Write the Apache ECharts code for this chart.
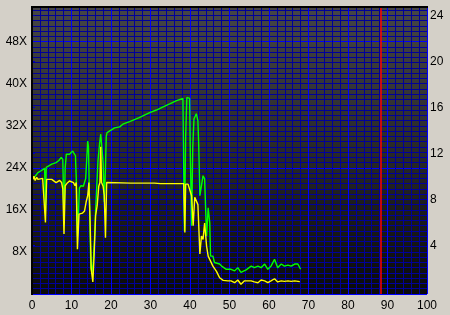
<!DOCTYPE html>
<html>
<head>
<meta charset="utf-8">
<script src="https://cdn.jsdelivr.net/npm/echarts@6/dist/echarts.min.js"></script>
<style>
html,body{margin:0;padding:0;background:#d4d0c8;}
#c{width:450px;height:315px;}
</style>
</head>
<body>
<div id="c"></div>
<script>
// ---- data ----
const xTickLabels = [0,10,20,30,40,50,60,70,80,90,100];
const leftTickLabels = [8,16,24,32,40,48];
const rightTickLabels = [4,8,12,16,20,24];
const redMarker = 88.2;

const greenSpeed = [
[0.2,22.0],[0.8,22.4],[1.5,23.1],[2.2,23.4],[2.7,23.7],[3.2,23.9],[3.4,15.8],[3.6,24.1],[4.0,24.4],[5.0,24.7],
[6.1,25.0],[6.8,25.4],[7.4,26.0],[7.8,25.6],[8.1,14.3],[8.4,24.0],[8.7,26.6],[9.2,26.4],[9.5,26.6],[10.0,26.9],
[10.3,27.2],[10.6,26.8],[11.0,26.3],[11.3,20.0],[11.5,11.0],[11.8,16.0],[12.0,20.2],[12.4,20.6],[13.0,20.5],[13.3,20.8],
[13.6,22.0],[14.1,29.1],[14.3,28.0],[14.6,16.0],[14.9,5.0],[15.2,4.1],[15.5,6.0],[15.8,10.0],[16.1,15.8],[16.4,20.5],
[16.7,25.3],[17.1,28.5],[17.4,30.4],[17.7,30.2],[18.0,25.0],[18.3,17.5],[18.6,24.0],[18.8,30.0],[19.0,30.7],
[20.9,31.6],[22.2,31.8],[23.0,32.3],[24.7,32.8],[27.0,33.5],[29.8,34.5],[31.5,35.0],[33.2,35.6],[35.0,36.2],[36.6,36.8],
[38.2,37.2],[38.5,37.3],[38.6,12.0],[38.9,30.0],[39.2,37.4],[39.5,37.6],[39.9,37.2],[40.1,26.0],[40.4,13.0],[40.7,28.0],
[41.0,33.3],[41.3,33.0],[41.6,34.3],[42.0,33.0],[42.2,28.5],[42.5,18.7],[42.9,20.6],[43.3,22.5],[43.7,21.9],[44.2,11.0],
[44.6,16.4],[45.0,13.5],[45.2,7.2],[45.8,7.2],[46.2,6.0],[46.7,5.7],[47.5,5.7],[48.0,5.3],[48.4,5.0],[49.2,4.7],
[49.6,4.4],[50.4,4.7],[51.3,4.4],[52.1,5.0],[52.9,4.1],[53.4,4.4],[54.2,4.6],[54.6,4.7],[55.5,5.3],[56.3,5.0],
[57.2,5.3],[58.0,5.0],[58.9,5.7],[59.7,4.7],[60.5,5.3],[61.4,6.6],[62.2,5.0],[63.1,5.7],[63.9,5.3],[64.8,5.5],
[65.6,5.3],[66.5,5.7],[67.3,5.7],[68.0,4.7]
];

const yellowSpeed = [
[0.2,21.8],[0.5,22.4],[0.8,21.6],[1.2,22.2],[1.5,21.8],[2.0,22.0],[2.7,22.0],[3.2,21.8],[3.4,13.6],[3.7,21.8],
[4.0,21.8],[5.0,21.8],[5.5,21.5],[6.1,21.2],[6.6,21.2],[7.0,21.6],[7.5,21.2],[7.8,20.0],[8.1,11.4],[8.4,20.6],
[8.8,21.0],[9.5,21.5],[10.0,21.6],[10.5,21.2],[10.9,20.6],[11.2,21.2],[11.5,8.5],[11.9,15.2],[12.3,15.5],[12.8,15.4],
[13.3,15.8],[13.7,17.5],[14.1,18.7],[14.4,21.2],[14.7,14.0],[15.0,4.7],[15.4,2.3],[15.7,7.0],[16.1,14.9],[16.5,16.8],
[16.9,20.5],[17.2,21.2],[17.4,28.0],[17.6,21.2],[18.0,20.5],[18.3,18.7],[18.6,10.7],[18.9,21.2],[19.2,21.1],[25.0,21.1],
[30.0,21.1],[30.5,20.9],[31.0,21.1],[32.5,21.0],[33.0,21.1],[38.4,21.0],[38.6,20.9],[38.7,11.7],[38.9,20.9],[39.5,20.9],
[39.9,20.6],[40.4,18.7],[40.8,13.0],[41.2,18.4],[41.6,18.7],[42.0,17.0],[42.5,7.6],[42.9,11.0],[43.3,10.4],[43.7,13.5],
[44.2,9.1],[44.6,7.2],[45.0,7.2],[45.8,5.3],[46.7,4.3],[47.5,3.1],[48.4,2.6],[48.8,2.5],[49.6,2.5],[50.4,2.5],
[51.3,2.15],[52.1,2.67],[52.9,1.85],[53.8,2.5],[54.6,2.5],[55.5,2.5],[56.3,2.3],[57.2,2.15],[58.0,2.67],[58.9,2.5],
[59.7,2.15],[60.5,2.5],[61.4,2.9],[62.2,2.3],[63.1,2.5],[63.9,2.4],[64.8,2.5],[65.6,2.4],[66.5,2.5],[67.8,2.35]
];

// ---- styling ----
const FONT = "'Liberation Sans', Arial, sans-serif";
const MAJOR = '#0000ff';
const MINOR = '#00009a';

const chart = echarts.init(document.getElementById('c'), null, {renderer: 'canvas'});
chart.setOption({
  animation: false,
  backgroundColor: '#d4d0c8',
  grid: [
    {left: 32, right: 23, top: 7, bottom: 21, show: true, borderWidth: 0,
     backgroundColor: {type: 'linear', x: 0, y: 0, x2: 0, y2: 1,
       colorStops: [{offset: 0, color: '#464646'}, {offset: 0.5, color: '#292929'}, {offset: 1, color: '#0a0a0a'}]}},
    {left: 32, right: 23, top: 7, bottom: 23.7, show: false}
  ],
  xAxis: [
    {gridIndex: 0, type: 'value', min: 0, max: 100, interval: 2,
     axisLine: {show: false}, axisTick: {show: false},
     axisLabel: {customValues: xTickLabels, color: '#000', fontSize: 12, fontFamily: FONT, margin: 6},
     splitLine: {show: true, lineStyle: {color: MINOR, width: 1}}},
    {gridIndex: 1, type: 'value', min: 0, max: 100, show: false},
    {gridIndex: 0, type: 'value', min: 0, max: 100, interval: 10,
     axisLine: {show: false}, axisTick: {show: false}, axisLabel: {show: false},
     splitLine: {show: true, lineStyle: {color: MAJOR, width: 1}}}
  ],
  yAxis: [
    {gridIndex: 0, type: 'value', position: 'left', min: 0, max: 54.6, interval: 1,
     axisLine: {show: false}, axisTick: {show: false},
     axisLabel: {customValues: leftTickLabels, formatter: '{value}X', color: '#000', fontSize: 12, fontFamily: FONT, margin: 5},
     splitLine: {show: true, lineStyle: {color: MINOR, width: 1}}},
    {gridIndex: 1, type: 'value', position: 'right', min: 0, max: 24.72, interval: 4,
     axisLine: {show: false},
     axisTick: {show: true, customValues: rightTickLabels, length: 3, lineStyle: {color: '#0000c0'}},
     axisLabel: {customValues: rightTickLabels, color: '#000', fontSize: 12, fontFamily: FONT, margin: 3},
     splitLine: {show: false}},
    {gridIndex: 0, type: 'value', position: 'left', min: 0, max: 54.6, interval: 24,
     axisLine: {show: false}, axisTick: {show: false}, axisLabel: {show: false},
     splitLine: {show: true, lineStyle: {color: MAJOR, width: 1}}}
  ],
  series: [
    {type: 'line', name: 'green', xAxisIndex: 0, yAxisIndex: 0, data: greenSpeed, showSymbol: false, symbol: 'none',
     lineStyle: {color: '#00ff00', width: 1.4}, z: 3,
     markLine: {silent: true, symbol: 'none', label: {show: false},
       lineStyle: {color: '#ff0000', width: 1.5, type: 'solid'}, data: [{xAxis: redMarker}]}},
    {type: 'line', name: 'yellow', xAxisIndex: 0, yAxisIndex: 0, data: yellowSpeed, showSymbol: false, symbol: 'none',
     lineStyle: {color: '#ffff00', width: 1.4}, z: 4}
  ],
  graphic: [
    {type: 'rect', shape: {x: 31, y: 6, width: 397, height: 2}, style: {fill: '#000'}, z: 100},
    {type: 'rect', shape: {x: 31, y: 6, width: 2, height: 289}, style: {fill: '#000'}, z: 100}
  ]
});
</script>
</body>
</html>
